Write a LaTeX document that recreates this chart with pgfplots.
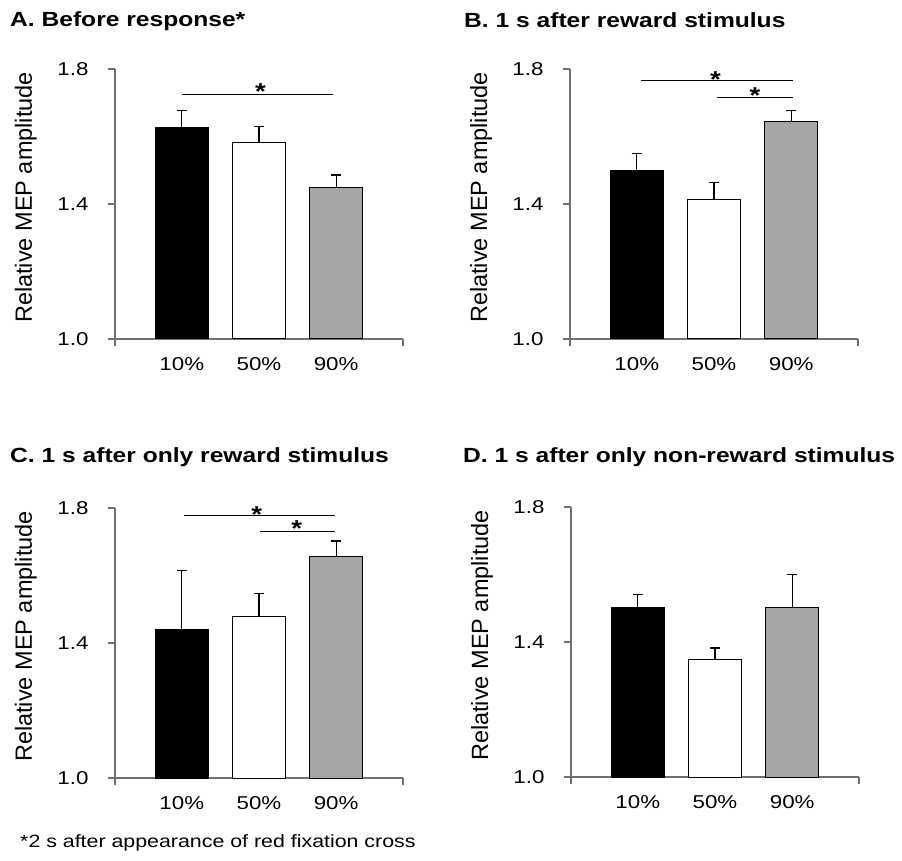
\documentclass[border=0pt]{standalone}
\usepackage{fontspec}
\setmainfont{Liberation Sans}
\newfontfamily\hfont{Liberation Sans}[FakeStretch=1.2]
\usepackage{pgfplots}
\pgfplotsset{compat=1.18}

\definecolor{bargray}{HTML}{A6A6A6}
\definecolor{axisgray}{HTML}{707070}

\pgfplotsset{
  mep/.style={
    scale only axis, width=288pt, height=270pt,
    xmin=-0.866, xmax=2.866, ymin=1, ymax=1.8,
    clip mode=individual,
    axis x line=bottom, axis y line=left,
    axis line style={-, draw=axisgray, line width=1.3pt},
    ytick={1,1.4,1.8}, yticklabels={1.0,1.4,1.8},
    xtick={0,1,2}, xticklabels={10\%,50\%,90\%},
    major x tick style={draw=none},
    tick align=outside, major tick length=7pt,
    tick style={draw=axisgray, line width=1.3pt},
    minor tick num=0,
    tick label style={font=\hfont\fontsize{18.6}{20}\selectfont},
    yticklabel style={xshift=-16pt},
    xticklabel style={yshift=-8pt},
    ylabel={Relative MEP amplitude},
    ylabel style={font=\fontsize{23.5}{26}\selectfont,
      at={([xshift=-83pt]axis description cs:0,0.524)}, anchor=base},
    ybar, bar width=53pt, bar shift=0pt,
  },
  mbar/.style={fill=#1, draw=black, line width=1pt,
    error bars/.cd, y dir=plus, y explicit,
    error bar style={black, line width=1.2pt},
    error mark options={rotate=90, black, line width=1.2pt, mark size=5pt}},
}
\tikzset{
  sig/.style={black, line width=1pt},
  star/.style={font=\hfont\bfseries\fontsize{23}{24}\selectfont, anchor=base, yshift=-14pt, inner sep=0pt},
  ttl/.style={anchor=base west, inner sep=0pt, font=\hfont\bfseries\fontsize{20.5}{24}\selectfont},
}

\newcommand{\axisendticks}{%
  \draw[axisgray, line width=1.3pt] (axis cs:-0.866,1) -- ++(0pt,-7pt);
  \draw[axisgray, line width=1.3pt] (axis cs:2.866,1) -- ++(0pt,-7pt);
}

\begin{document}
\begin{tikzpicture}
\useasboundingbox (0pt,0pt) rectangle (902pt,860pt);

% titles
\node[ttl] at (10pt,833pt) {A. Before response*};
\node[ttl] at (464pt,832pt) {B. 1 s after reward stimulus};
\node[ttl] at (10pt,397pt) {C. 1 s after only reward stimulus};
\node[ttl] at (463pt,397pt) {D. 1 s after only non-reward stimulus};
\node[anchor=base west, inner sep=0pt, font=\hfont\fontsize{17.8}{20}\selectfont] at (20pt,13pt) {*2 s after appearance of red fixation cross};

% Panel A
\begin{axis}[mep, at={(115pt,521pt)}, anchor=south west]
\addplot[mbar=black] coordinates {(0,1.626) +- (0,0.052)};
\addplot[mbar=white] coordinates {(1,1.582) +- (0,0.047)};
\addplot[mbar=bargray] coordinates {(2,1.450) +- (0,0.036)};
\axisendticks
\draw[sig] (axis cs:0,1.725) -- (axis cs:1.96,1.725);
\node[star] at (axis cs:1.02,1.75) {*};
\end{axis}

% Panel B
\begin{axis}[mep, at={(570pt,521pt)}, anchor=south west]
\addplot[mbar=black] coordinates {(0,1.498) +- (0,0.052)};
\addplot[mbar=white] coordinates {(1,1.414) +- (0,0.049)};
\addplot[mbar=bargray] coordinates {(2,1.643) +- (0,0.035)};
\axisendticks
\draw[sig] (axis cs:0.06,1.765) -- (axis cs:2.02,1.765);
\node[star] at (axis cs:1.02,1.787) {*};
\draw[sig] (axis cs:1.04,1.716) -- (axis cs:2.02,1.716);
\node[star] at (axis cs:1.53,1.74) {*};
\end{axis}

% Panel C
\begin{axis}[mep, at={(115pt,82pt)}, anchor=south west]
\addplot[mbar=black] coordinates {(0,1.440) +- (0,0.175)};
\addplot[mbar=white] coordinates {(1,1.480) +- (0,0.066)};
\addplot[mbar=bargray] coordinates {(2,1.655) +- (0,0.047)};
\axisendticks
\draw[sig] (axis cs:0.03,1.777) -- (axis cs:1.98,1.777);
\node[star] at (axis cs:0.97,1.80) {*};
\draw[sig] (axis cs:1.01,1.731) -- (axis cs:1.98,1.731);
\node[star] at (axis cs:1.49,1.758) {*};
\end{axis}

% Panel D
\begin{axis}[mep, at={(571pt,83pt)}, anchor=south west]
\addplot[mbar=black] coordinates {(0,1.501) +- (0,0.040)};
\addplot[mbar=white] coordinates {(1,1.347) +- (0,0.035)};
\addplot[mbar=bargray] coordinates {(2,1.501) +- (0,0.100)};
\axisendticks
\end{axis}
\end{tikzpicture}
\end{document}
